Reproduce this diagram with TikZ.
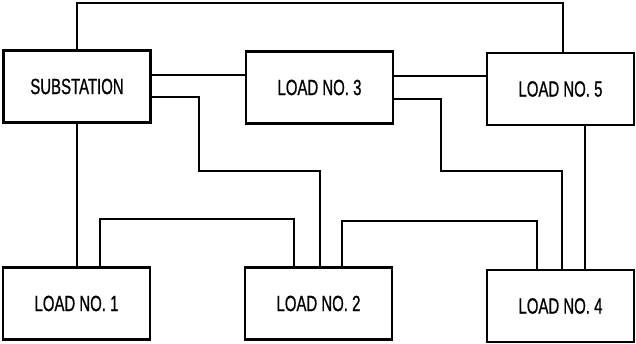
\documentclass[tikz,border=0pt]{standalone}
\usepackage{fontspec}
\newfontfamily\labfont[FakeStretch=0.68,FakeBold=0.8]{Liberation Sans}
\begin{document}
\begin{tikzpicture}[x=1pt,y=-1pt,
  box/.style={draw=black,line width=2.8pt,fill=white,minimum width=147pt,minimum height=72pt,inner sep=0pt,font=\labfont\fontsize{22}{26}\selectfont},
  wire/.style={draw=black,line width=1.8pt,line join=miter}]
\useasboundingbox (0,0) rectangle (636,344);
\coordinate (topy) at (0,3);
\node[box] (sub) at (77,86.5) {SUBSTATION};
\node[box] (l3) at (319.5,87.5) {LOAD NO. 3};
\node[box] (l5) at (560.5,89) {LOAD NO. 5};
\node[box] (l1) at (76.5,303.5) {LOAD NO. 1};
\node[box] (l2) at (318.5,303.5) {LOAD NO. 2};
\node[box] (l4) at (560.5,306) {LOAD NO. 4};
\path[wire] (sub.north) -- (sub.north |- topy) -- (563,3) -- (l5.north -| 563,0);
\path[wire] (sub.east |- 0,75) -- (l3.west |- 0,75);
\path[wire] (l3.east |- 0,76) -- (l5.west |- 0,76);
\path[wire] (sub.east |- 0,97) -- (199,97) -- (199,171) -- (320,171) -- (l2.north -| 320,0);
\path[wire] (sub.south) -- (l1.north -| sub.south);
\path[wire] (l1.north -| 100,0) -- (100,219) -- (294,219) -- (l2.north -| 294,0);
\path[wire] (l2.north -| 342,0) -- (342,221) -- (537,221) -- (l4.north -| 537,0);
\path[wire] (l3.east |- 0,99) -- (441,99) -- (441,171) -- (562,171) -- (l4.north -| 562,0);
\path[wire] (l5.south -| 585,0) -- (l4.north -| 585,0);
\end{tikzpicture}
\end{document}
